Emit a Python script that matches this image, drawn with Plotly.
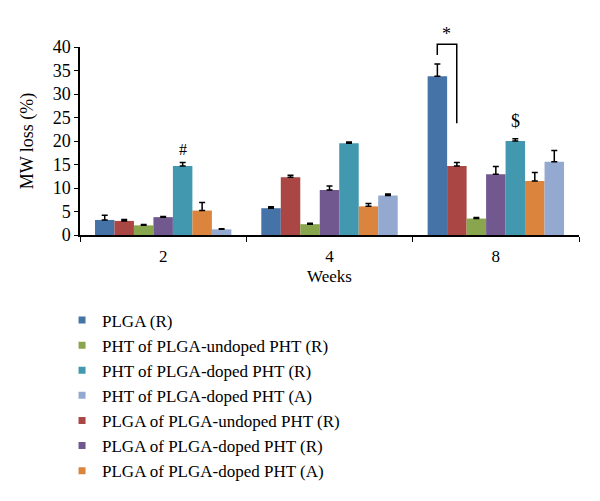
import plotly.graph_objects as go

# Data
weeks = ["2", "4", "8"]

series_names = [
    "PLGA (R)",
    "PLGA of PLGA-undoped PHT (R)",
    "PHT of PLGA-undoped PHT (R)",
    "PLGA of PLGA-doped PHT (R)",
    "PHT of PLGA-doped PHT (R)",
    "PLGA of PLGA-doped PHT (A)",
    "PHT of PLGA-doped PHT (A)",
]
plga_r = [3.2, 5.7, 33.8]
plga_undoped_r = [3.0, 12.3, 14.7]
pht_undoped_r = [2.05, 2.3, 3.5]
plga_doped_r = [3.8, 9.6, 12.9]
pht_doped_r = [14.7, 19.5, 20.0]
plga_doped_a = [5.2, 6.1, 11.5]
pht_doped_a = [1.2, 8.4, 15.6]

plga_r_err = [1.0, 0.3, 2.6]
plga_undoped_r_err = [0.3, 0.4, 0.7]
pht_undoped_r_err = [0.2, 0.2, 0.2]
plga_doped_r_err = [0.15, 0.85, 1.7]
pht_doped_r_err = [0.7, 0.3, 0.5]
plga_doped_a_err = [1.7, 0.6, 1.8]
pht_doped_a_err = [0.15, 0.3, 2.4]

values = [plga_r, plga_undoped_r, pht_undoped_r, plga_doped_r,
          pht_doped_r, plga_doped_a, pht_doped_a]
errors = [plga_r_err, plga_undoped_r_err, pht_undoped_r_err, plga_doped_r_err,
          pht_doped_r_err, plga_doped_a_err, pht_doped_a_err]
colors = ["#4572A7", "#AA4643", "#89A54E", "#71588F",
          "#4198AF", "#DB843D", "#93A9CF"]

# legend is listed in a different order than the bars
legend_order = [0, 2, 4, 6, 1, 3, 5]

FONT = "Liberation Serif"

fig = go.Figure()
for name, vals, errs, col in zip(series_names, values, errors, colors):
    fig.add_trace(go.Bar(
        x=weeks, y=vals, name=name,
        marker=dict(color=col, line=dict(width=0)),
        error_y=dict(type="data", array=errs, arrayminus=[0] * len(errs),
                     symmetric=False, color="black", thickness=1.5, width=3),
        showlegend=False,
    ))

# small square swatches for the legend
for i in legend_order:
    fig.add_trace(go.Scatter(
        x=[None], y=[None], mode="markers", name=series_names[i],
        marker=dict(symbol="square", size=7, color=colors[i]),
    ))

# significance marks (x in category index units)
fig.add_annotation(x=0.117, y=pht_doped_r[0] + pht_doped_r_err[0], text="#",
                   yshift=3, showarrow=False, yanchor="bottom",
                   font=dict(family=FONT, size=16, color="black"))
fig.add_annotation(x=2.117, y=pht_doped_r[2] + pht_doped_r_err[2], text="$",
                   yshift=6, showarrow=False, yanchor="bottom",
                   font=dict(family=FONT, size=18, color="black"))

# bracket between PLGA (R) and PLGA of PLGA-undoped PHT (R) at week 8
def to_paper(v):
    return v / 40.0

fig.add_shape(type="path", xref="x", yref="paper",
              path="M 1.648,%f L 1.648,%f L 1.765,%f L 1.765,%f" % (
                  to_paper(38.3), to_paper(40.6), to_paper(40.6), to_paper(23.8)),
              line=dict(color="black", width=1.5))
fig.add_annotation(x=1.705, xref="x", y=to_paper(40.2), yref="paper", text="*",
                   showarrow=False, yanchor="bottom",
                   font=dict(family=FONT, size=18, color="black"))

fig.update_layout(
    width=600, height=501,
    paper_bgcolor="white", plot_bgcolor="white",
    margin=dict(l=72, r=29, t=39, b=274),
    barmode="group", bargap=0.18, bargroupgap=0,
    font=dict(family=FONT, size=16, color="black"),
    xaxis=dict(
        type="category",
        title=dict(text="Weeks", font=dict(size=17), standoff=5),
        showline=True, linecolor="black", linewidth=1.5,
        ticks="outside", tickson="boundaries", ticklen=5, tickcolor="black",
        tickfont=dict(size=17), ticklabelstandoff=5,
    ),
    yaxis=dict(
        title=dict(text="MW loss (%)", font=dict(size=18), standoff=14),
        range=[0, 40], dtick=5, showgrid=False, zeroline=False,
        showline=True, linecolor="black", linewidth=1.5,
        ticks="outside", ticklen=4, tickcolor="black",
        tickfont=dict(size=18),
    ),
    legend=dict(
        x=-0.036, y=-0.359, xanchor="left", yanchor="top",
        font=dict(family=FONT, size=17), bgcolor="rgba(0,0,0,0)",
        itemwidth=30, tracegroupgap=0,
    ),
    showlegend=True,
)

fig.write_html("out.html")
